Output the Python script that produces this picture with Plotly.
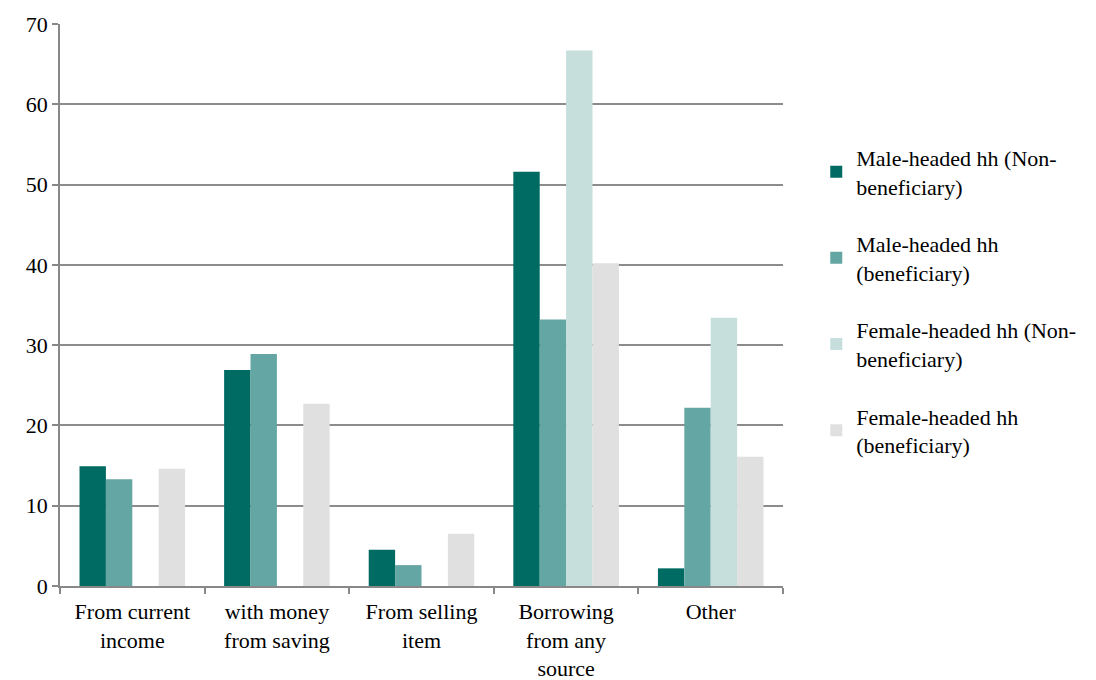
import plotly.graph_objects as go

categories = ["From current<br>income", "with money<br>from saving", "From selling<br>item",
              "Borrowing<br>from any<br>source", "Other"]
series_names = ["Male-headed hh (Non-<br>beneficiary)", "Male-headed hh<br>(beneficiary)",
                "Female-headed hh (Non-<br>beneficiary)", "Female-headed hh<br>(beneficiary)"]
male_nb = [14.9, 26.9, 4.5, 51.6, 2.2]
male_b = [13.3, 28.9, 2.6, 33.2, 22.2]
female_nb = [0, 0, 0, 66.7, 33.4]
female_b = [14.6, 22.7, 6.5, 40.2, 16.1]
colors = ["#006B63", "#64A6A3", "#C6DEDC", "#E0E0E0"]

font = dict(family="Liberation Serif", size=22, color="#000000")

fig = go.Figure()
for i, (name, vals) in enumerate(zip(series_names, [male_nb, male_b, female_nb, female_b])):
    fig.add_trace(go.Bar(x=categories, y=vals, name=name, marker_color=colors[i],
                         marker_line_width=0, legendgroup=f"g{i}"))

fig.update_layout(
    width=1096, height=680,
    margin=dict(l=52, r=321, t=16, b=102, autoexpand=False),
    paper_bgcolor="white", plot_bgcolor="white",
    font=font,
    barmode="group", bargap=0.27, bargroupgap=0,
    legend=dict(x=1.046, xref="paper", y=0.507, yanchor="middle", yref="paper",
                tracegroupgap=26, font=font, itemsizing="constant"),
    showlegend=True,
)
fig.update_xaxes(showline=True, linecolor="#888888", linewidth=1.5, tickangle=0,
                 ticks="outside", tickson="boundaries", ticklen=6, tickcolor="#888888",
                 tickwidth=1.5, tickfont=font, showgrid=False, ticklabelstandoff=5)
fig.update_yaxes(range=[0, 70], dtick=10, showline=True, linecolor="#888888", linewidth=1.5,
                 ticks="outside", ticklen=6, tickcolor="#888888", tickwidth=1.5,
                 showgrid=True, gridcolor="#8C8C8C", gridwidth=1.5, zeroline=False,
                 tickfont=font)

fig.write_html("out.html")
